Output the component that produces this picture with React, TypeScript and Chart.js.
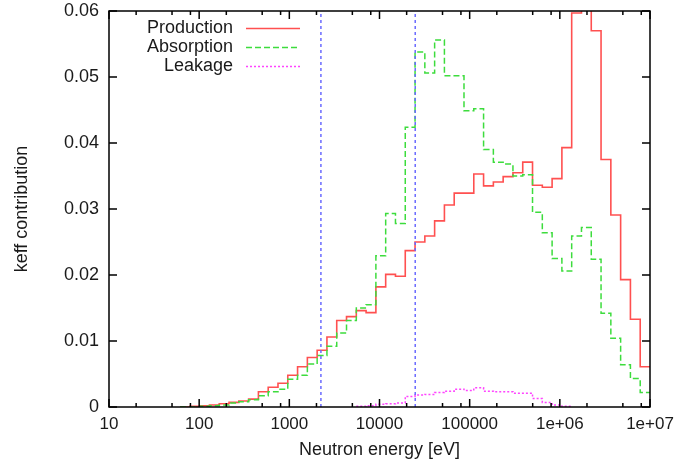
import React, { useEffect, useRef } from "react";
import { Chart, registerables } from "chart.js";

Chart.register(...registerables);

// Lower edges (eV) of the energy bins, ascending; the last bin ends at TOP_EDGE_EV
const BIN_LOWER_EDGES_EV = [
  61.442, 78.893, 101.3, 130.07, 167.02, 214.45, 275.36, 353.58, 454.0, 582.95,
  748.52, 961.12, 1234.1, 1584.6, 2034.7, 2612.5, 3354.6, 4307.4, 5530.8, 7101.7,
  9118.8, 11709, 15034, 19305, 24788, 31828, 40868, 52475, 67379, 86517,
  111090, 142640, 183160, 235180, 301970, 387740, 497870, 639280, 820850, 1054000,
  1353400, 1737700, 2231300, 2865000, 3678800, 4723700, 6065300, 7788000,
];
const TOP_EDGE_EV = 10000000;

const PRODUCTION = [
  0, 0.0001, 0.0002, 0.0003, 0.0005, 0.0007, 0.0009, 0.0012, 0.0023, 0.003,
  0.0036, 0.0048, 0.0061, 0.0075, 0.0086, 0.0106, 0.0131, 0.0137, 0.0146, 0.0143,
  0.0182, 0.0201, 0.0198, 0.0237, 0.025, 0.0259, 0.0282, 0.0306, 0.0324, 0.0324,
  0.0353, 0.0335, 0.0341, 0.0349, 0.0355, 0.0371, 0.0336, 0.0333, 0.0346, 0.0393,
  0.0597, 0.064, 0.057, 0.0375, 0.0291, 0.0193, 0.0133, 0.0061,
];

const ABSORPTION = [
  0, 0, 0.0001, 0.0002, 0.0003, 0.0006, 0.0008, 0.0011, 0.0017, 0.0023,
  0.0027, 0.0042, 0.0048, 0.0065, 0.0078, 0.0092, 0.0112, 0.0131, 0.015, 0.0155,
  0.0229, 0.0293, 0.0278, 0.0424, 0.0538, 0.0506, 0.0556, 0.0502, 0.0502, 0.0449,
  0.0452, 0.039, 0.0371, 0.0368, 0.035, 0.0352, 0.0295, 0.0264, 0.0225, 0.0206,
  0.0259, 0.0272, 0.0224, 0.0142, 0.0104, 0.0064, 0.0043, 0.0022,
];

const LEAKAGE = [
  null, null, null, null, null, null, null, null, null, null,
  null, null, null, null, null, null, null, null, 0.0001, 0.0002,
  0.0004, 0.0005, 0.0006, 0.0016, 0.0018, 0.0019, 0.0022, 0.0024, 0.0027, 0.0025,
  0.0029, 0.0024, 0.0023, 0.0023, 0.0021, 0.0021, 0.0013, 0.0007, 0.0003, 0.0001,
  0, null, null, null, null, null, null, null,
];

const SERIES_NAMES = ["Production", "Absorption", "Leakage"];
const MARKER_ENERGIES_EV = [2240, 24900];

const X_TICKS = [10, 100, 1000, 10000, 100000, 1000000, 10000000];
const X_TICK_LABELS = ["10", "100", "1000", "10000", "100000", "1e+06", "1e+07"];
const X_MINOR_FACTORS = [2, 5, 8];
const Y_TICKS = [0, 0.01, 0.02, 0.03, 0.04, 0.05, 0.06];
const Y_TICK_LABELS = ["0", "0.01", "0.02", "0.03", "0.04", "0.05", "0.06"];

const FONT = '"Liberation Sans", Arial, sans-serif';
const TEXT_COLOR = "#1a1a1a";

function toSteps(values: (number | null)[]) {
  const pts: { x: number; y: number | null }[] = BIN_LOWER_EDGES_EV.map((e, i) => ({
    x: e,
    y: values[i],
  }));
  pts.push({ x: TOP_EDGE_EV, y: values[values.length - 1] });
  return pts;
}

const framePlugin = {
  id: "gnuFrame",
  afterDatasetsDraw(chart: any) {
    const { ctx, chartArea: a, scales } = chart;
    const xs = scales.x;
    const ys = scales.y;
    ctx.save();
    ctx.setLineDash([]);
    ctx.strokeStyle = "#000";
    ctx.lineWidth = 1.5;
    ctx.strokeRect(a.left, a.top, a.right - a.left, a.bottom - a.top);
    ctx.beginPath();
    const major = 8;
    const minor = 4;
    X_TICKS.forEach((v, i) => {
      const px = xs.getPixelForValue(v);
      ctx.moveTo(px, a.bottom);
      ctx.lineTo(px, a.bottom - major);
      ctx.moveTo(px, a.top);
      ctx.lineTo(px, a.top + major);
      if (i < X_TICKS.length - 1) {
        X_MINOR_FACTORS.forEach((m) => {
          const mx = xs.getPixelForValue(v * m);
          ctx.moveTo(mx, a.bottom);
          ctx.lineTo(mx, a.bottom - minor);
          ctx.moveTo(mx, a.top);
          ctx.lineTo(mx, a.top + minor);
        });
      }
    });
    Y_TICKS.forEach((v) => {
      const py = ys.getPixelForValue(v);
      ctx.moveTo(a.left, py);
      ctx.lineTo(a.left + major, py);
      ctx.moveTo(a.right, py);
      ctx.lineTo(a.right - major, py);
    });
    ctx.stroke();

    // legend (text right-aligned, sample line to the right)
    ctx.font = `18px ${FONT}`;
    ctx.fillStyle = TEXT_COLOR;
    ctx.textAlign = "right";
    ctx.textBaseline = "middle";
    SERIES_NAMES.forEach((name, i) => {
      const ds = chart.data.datasets[i];
      const y = a.top + 17 + i * 19;
      ctx.fillText(name, a.left + 124, y);
      ctx.beginPath();
      ctx.strokeStyle = ds.borderColor;
      ctx.lineWidth = ds.borderWidth;
      ctx.setLineDash(ds.borderDash || []);
      ctx.moveTo(a.left + 137, y + 0.5);
      ctx.lineTo(a.left + 191, y + 0.5);
      ctx.stroke();
    });
    ctx.restore();
  },
};

export default function App() {
  const canvasRef = useRef<HTMLCanvasElement | null>(null);

  useEffect(() => {
    const canvas = canvasRef.current;
    if (!canvas) return;
    const markerSets = MARKER_ENERGIES_EV.map((e) => ({
      label: "marker",
      data: [
        { x: e, y: Y_TICKS[0] },
        { x: e, y: Y_TICKS[Y_TICKS.length - 1] },
      ],
      borderColor: "#6b6bff",
      borderWidth: 1.5,
      borderDash: [3, 3],
      pointRadius: 0,
      order: 0,
    }));
    const chart = new Chart(canvas, {
      type: "line",
      data: {
        datasets: [
          {
            label: SERIES_NAMES[0],
            data: toSteps(PRODUCTION),
            stepped: "before",
            borderColor: "#ff5050",
            borderWidth: 1.6,
            pointRadius: 0,
            order: 3,
          },
          {
            label: SERIES_NAMES[1],
            data: toSteps(ABSORPTION),
            stepped: "before",
            borderColor: "#3ddc3d",
            borderWidth: 1.5,
            borderDash: [6, 3],
            pointRadius: 0,
            order: 2,
          },
          {
            label: SERIES_NAMES[2],
            data: toSteps(LEAKAGE),
            stepped: "before",
            borderColor: "#ff44ff",
            borderWidth: 1.5,
            borderDash: [2, 2],
            pointRadius: 0,
            order: 1,
          },
          ...markerSets,
        ] as any,
      },
      options: {
        animation: false,
        responsive: false,
        devicePixelRatio: 1,
        layout: { padding: { top: 11, right: 30, left: 0, bottom: 0 } },
        plugins: {
          legend: { display: false },
          tooltip: { enabled: false },
        },
        scales: {
          x: {
            type: "logarithmic",
            min: 10,
            max: 10000000,
            afterFit: (s: any) => {
              s.height = 66;
              s.paddingLeft = 0;
              s.paddingRight = 0;
            },
            afterBuildTicks: (s: any) => {
              s.ticks = X_TICKS.map((v) => ({ value: v }));
            },
            grid: { display: false, drawTicks: false },
            border: { display: false },
            ticks: {
              autoSkip: false,
              maxRotation: 0,
              padding: 7,
              color: TEXT_COLOR,
              font: { family: FONT, size: 17 },
              callback: (_v: any, i: number) => X_TICK_LABELS[i],
            },
            title: {
              display: true,
              text: "Neutron energy [eV]",
              color: TEXT_COLOR,
              font: { family: FONT, size: 18 },
              padding: { top: 4, bottom: 12 },
            },
          },
          y: {
            type: "linear",
            min: 0,
            max: 0.06,
            afterFit: (s: any) => {
              s.width = 109;
              s.paddingTop = 0;
              s.paddingBottom = 0;
            },
            afterBuildTicks: (s: any) => {
              s.ticks = Y_TICKS.map((v) => ({ value: v }));
            },
            grid: { display: false, drawTicks: false },
            border: { display: false },
            ticks: {
              padding: 10,
              color: TEXT_COLOR,
              font: { family: FONT, size: 18 },
              callback: (_v: any, i: number) => Y_TICK_LABELS[i],
            },
            title: {
              display: true,
              text: "keff contribution",
              color: TEXT_COLOR,
              font: { family: FONT, size: 18 },
              padding: { top: 11, bottom: 4 },
            },
          },
        },
      } as any,
      plugins: [framePlugin],
    });
    return () => chart.destroy();
  }, []);

  return (
    <div style={{ position: "absolute", left: 0, top: 0, width: 680, height: 473, background: "#fff" }}>
      <canvas ref={canvasRef} width={680} height={473} style={{ display: "block" }} />
    </div>
  );
}
